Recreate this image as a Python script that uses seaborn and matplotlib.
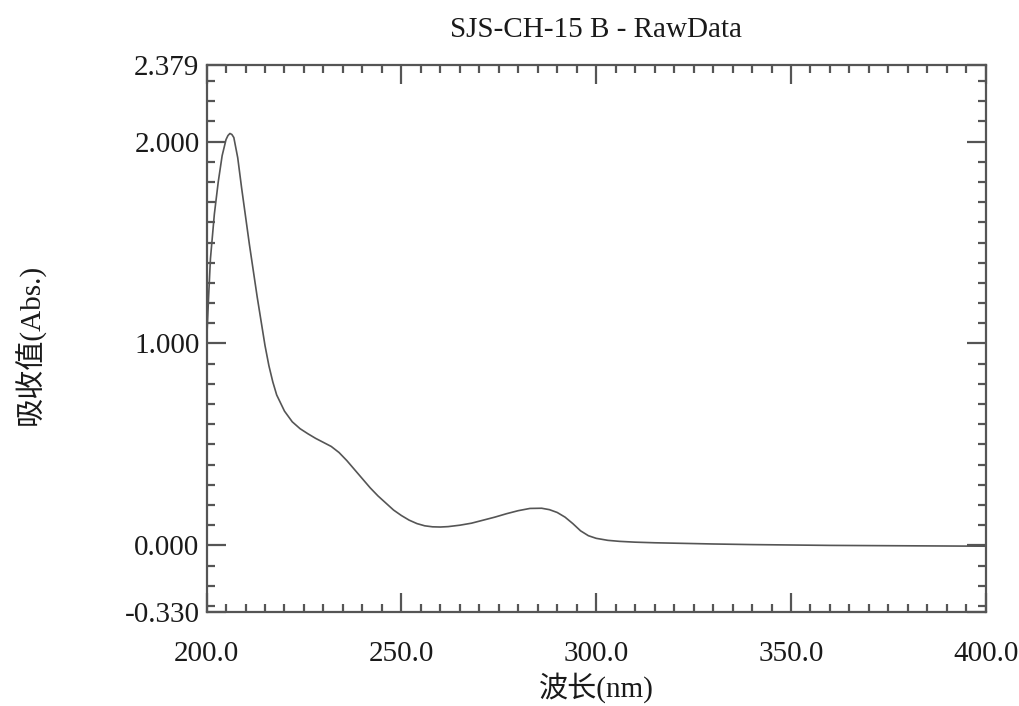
import numpy as np
import pandas as pd
import matplotlib
matplotlib.use("Agg")
import matplotlib.pyplot as plt
import seaborn as sns
from matplotlib.ticker import MultipleLocator, FixedLocator, FixedFormatter

# ---- data ----
wavelength = [200, 200.5, 201, 202, 203, 204, 205, 205.5, 206, 206.5, 207, 208, 209, 210,
              211, 212, 213, 214, 215, 216, 217, 218, 220, 222, 224, 226, 228, 230, 232,
              234, 236, 238, 240, 242, 244, 246, 248, 250, 252, 254, 256, 258, 260, 262,
              265, 268, 271, 274, 277, 280, 283, 286, 288, 290, 292, 294, 296, 298, 300,
              303, 306, 310, 315, 320, 330, 340, 350, 360, 370, 380, 390, 400]
absorbance = [1.00, 1.22, 1.42, 1.64, 1.80, 1.93, 2.01, 2.03, 2.04, 2.035, 2.02, 1.92,
              1.77, 1.63, 1.49, 1.36, 1.23, 1.11, 0.99, 0.89, 0.81, 0.745, 0.665, 0.612,
              0.578, 0.553, 0.53, 0.51, 0.49, 0.46, 0.42, 0.375, 0.33, 0.285, 0.245,
              0.21, 0.175, 0.148, 0.125, 0.108, 0.097, 0.092, 0.091, 0.093, 0.10, 0.11,
              0.125, 0.14, 0.157, 0.172, 0.183, 0.184, 0.177, 0.163, 0.14, 0.108, 0.072,
              0.048, 0.035, 0.025, 0.02, 0.016, 0.013, 0.011, 0.007, 0.004, 0.002, 0.0,
              -0.001, -0.002, -0.003, -0.004]
y_ticks = [-0.330, 0.0, 1.0, 2.0, 2.379]
y_ticklabels = ["-0.330", "0.000", "1.000", "2.000", "2.379"]
x_ticks = [200, 250, 300, 350, 400]
x_ticklabels = ["200.0", "250.0", "300.0", "350.0", "400.0"]
title = "SJS-CH-15 B - RawData"
xlabel = "波长(nm)"
ylabel = "吸收值(Abs.)"

df = pd.DataFrame({"wavelength": wavelength, "absorbance": absorbance})

sns.set_style("ticks")
fonts = ["Liberation Serif", "Noto Sans CJK SC", "DejaVu Sans"]
plt.rcParams["font.family"] = fonts

fig = plt.figure(figsize=(10.2, 7.06), dpi=100)
ax = fig.add_axes([0.2025, 0.1331, 0.764, 0.7748])

edge = "#555555"
sns.lineplot(data=df, x="wavelength", y="absorbance", ax=ax, color="#555555",
             linewidth=1.2)

ax.set_xlim(200, 400)
ax.set_ylim(-0.330, 2.379)

ax.xaxis.set_major_locator(FixedLocator(x_ticks))
ax.xaxis.set_major_formatter(FixedFormatter(x_ticklabels))
ax.xaxis.set_minor_locator(MultipleLocator(5))
ax.yaxis.set_major_locator(FixedLocator(y_ticks))
ax.yaxis.set_major_formatter(FixedFormatter(y_ticklabels))
ax.yaxis.set_minor_locator(MultipleLocator(0.1))

for sp in ax.spines.values():
    sp.set_visible(True)
    sp.set_color(edge)
    sp.set_linewidth(1.6)

ax.tick_params(which="both", direction="in", top=True, right=True, color=edge,
               width=1.6, labelsize=21, labelcolor="#1a1a1a")
ax.tick_params(which="major", length=14)
ax.tick_params(which="minor", length=5.5)
ax.tick_params(axis="x", which="major", pad=21)
ax.tick_params(axis="y", which="major", pad=5)

ax.set_title(title, fontsize=21, color="#1a1a1a", pad=20)
ax.set_xlabel(xlabel, fontsize=21, color="#1a1a1a", va="top")
ax.set_ylabel(ylabel, fontsize=21, color="#1a1a1a")
ax.xaxis.set_label_coords(0.5, -0.11)
ax.yaxis.set_label_coords(-0.206, 0.49)

fig.savefig("out.png", dpi=100, facecolor="white")
